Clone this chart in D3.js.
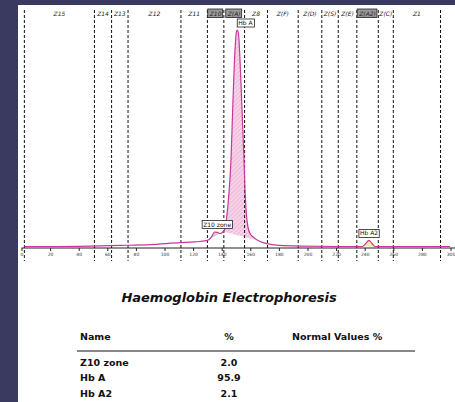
<!DOCTYPE html>
<html><head><meta charset="utf-8">
<script src="https://cdn.jsdelivr.net/npm/d3@7"></script>
<style>html,body{margin:0;padding:0;background:#fff;}svg{display:block;}</style>
</head><body>
<script>
// ---- data ----
const mobility = [2, 20, 48, 69, 90, 111, 121, 130, 133, 135, 137, 139, 141, 142.3, 143.7, 145, 146.5, 147.9, 149.3, 150.3, 151, 151.7, 152.8, 154.2, 155.6, 156.3, 157.3, 158.4, 159.8, 162.6, 165.4, 168.9, 172.4, 180.8, 194.8, 229.7, 238.1, 240.2, 243, 245.1, 247.2, 264.7, 299.7];
const absorbance = [0, 0, 0.2, 0.5, 0.9, 1.8, 2.1, 2.8, 4.6, 6.7, 6.5, 6.0, 6.9, 8.3, 14.7, 24, 40, 67.7, 90.8, 99.1, 100, 98.6, 86.2, 63.1, 40.1, 26.3, 14.7, 8.8, 6, 4.1, 2.8, 1.8, 1.2, 0.5, 0.2, 0, 0, 0.9, 2.8, 1.4, 0, 0, 0];
const zoneBounds = [2, 51, 63, 74.5, 111.5, 130, 141.5, 156, 172, 193.5, 210, 221.5, 234.5, 249.5, 260, 293];
const zoneNames = ["Z15", "Z14", "Z13", "Z12", "Z11", "Z10", "Z(A)", "Z8", "Z(F)", "Z(D)", "Z(S)", "Z(E)", "Z(A2)", "Z(C)", "Z1"];
const highlightedZones = ["Z10", "Z(A)", "Z(A2)"];
const peakNames = ["Z10 zone", "Hb A", "Hb A2"];
const peakStart = [130, 141, 238.1];
const peakEnd = [141, 165.4, 247.2];
const peakPercent = ["2.0", "95.9", "2.1"];
const xTicks = [0, 20, 40, 60, 80, 100, 120, 140, 160, 180, 200, 220, 240, 260, 280, 300];
const title = "Haemoglobin Electrophoresis";
const tableHeaders = ["Name", "%", "Normal Values %"];

// ---- drawing ----
const W = 455, H = 402;
const svg = d3.select("body").append("svg").attr("width", W).attr("height", H);
const bg = "#3a3a60";
svg.append("rect").attr("width", W).attr("height", H).attr("fill", "#fff");
svg.append("rect").attr("x", 0).attr("y", 0).attr("width", 18).attr("height", H).attr("fill", bg);
svg.append("rect").attr("x", 0).attr("y", 0).attr("width", W).attr("height", 5).attr("fill", bg);

const x = d3.scaleLinear().domain([0, 300]).range([21.5, 450.5]);
const y = d3.scaleLinear().domain([0, 100]).range([246.5, 30]);

const defs = svg.append("defs");
const pat = defs.append("pattern").attr("id", "hatch").attr("patternUnits", "userSpaceOnUse")
  .attr("width", 3).attr("height", 3).attr("patternTransform", "rotate(45)");
pat.append("rect").attr("width", 3).attr("height", 3).attr("fill", "#f7d3e8");
pat.append("line").attr("x1", 0).attr("y1", 0).attr("x2", 0).attr("y2", 3).attr("stroke", "#e59bc9").attr("stroke-width", 1);

const pts = mobility.map((m, i) => ({m, a: absorbance[i]}));
const fills = ["#cfcfcf", "url(#hatch)", "#f2eca8"];
peakNames.forEach((name, i) => {
  const sub = pts.filter(p => p.m >= peakStart[i] - 1e-6 && p.m <= peakEnd[i] + 1e-6);
  const p0 = sub[0], p1 = sub[sub.length - 1];
  const base = m => p0.a + (p1.a - p0.a) * (m - p0.m) / (p1.m - p0.m);
  const area = d3.area().curve(d3.curveMonotoneX)
    .x(d => x(d.m)).y1(d => y(d.a)).y0(d => y(base(d.m)));
  svg.append("path").datum(sub).attr("d", area).attr("fill", fills[i]).attr("stroke", "none");
});

// axis
const axis = d3.axisBottom(x).tickValues(xTicks).tickSize(3).tickPadding(1.5);
const gx = svg.append("g").attr("transform", `translate(0,${248})`).call(axis);
gx.select(".domain").attr("stroke", "#222").attr("stroke-width", 1).attr("d", `M${x(0)},0H${W}`);
gx.selectAll(".tick line").attr("stroke", "#222");
gx.selectAll(".tick text").attr("font-size", 4.5).attr("font-family", "DejaVu Sans").attr("fill", "#333");

// zone lines
svg.append("g").selectAll("line").data(zoneBounds).join("line")
  .attr("x1", d => x(d)).attr("x2", d => x(d)).attr("y1", 10).attr("y2", 261)
  .attr("stroke", "#111").attr("stroke-width", 1).attr("stroke-dasharray", "3,2");

// zone labels
zoneNames.forEach((z, i) => {
  const cx = (x(zoneBounds[i]) + x(zoneBounds[i + 1])) / 2;
  const g = svg.append("g");
  const t = g.append("text").attr("x", cx).attr("y", 15.5).attr("text-anchor", "middle")
    .attr("font-family", "DejaVu Sans").attr("font-style", "italic").attr("font-size", 6)
    .attr("fill", "#222").text(z);
  if (highlightedZones.includes(z)) {
    const bb = t.node().getBBox();
    g.insert("rect", "text").attr("x", bb.x - 1).attr("y", 9).attr("width", bb.width + 2).attr("height", 8.5)
      .attr("fill", "#9a9a9a").attr("stroke", "#222").attr("stroke-width", 0.8);
  }
});

// curve
const line = d3.line().curve(d3.curveMonotoneX).x(d => x(d.m)).y(d => y(d.a));
svg.append("path").datum(pts).attr("d", line).attr("fill", "none")
  .attr("stroke", "#c8389c").attr("stroke-width", 1.2);

// peak labels
const labelDx = [-6, 8, 0];
peakNames.forEach((name, i) => {
  const sub = pts.filter(p => p.m >= peakStart[i] && p.m <= peakEnd[i]);
  const top = sub.reduce((a, b) => b.a > a.a ? b : a);
  const cx = x(top.m) + labelDx[i];
  const cy = y(top.a) - 7;
  const g = svg.append("g");
  const t = g.append("text").attr("x", cx).attr("y", cy + 2).attr("text-anchor", "middle")
    .attr("font-family", "DejaVu Sans").attr("font-size", 6).attr("fill", "#111").text(name);
  const bb = t.node().getBBox();
  g.insert("rect", "text").attr("x", bb.x - 1).attr("y", cy - 4).attr("width", bb.width + 2).attr("height", 8)
    .attr("fill", "#fff").attr("stroke", "#222").attr("stroke-width", 0.8);
});

// title
svg.append("text").attr("x", 229).attr("y", 302).attr("text-anchor", "middle")
  .attr("font-family", "DejaVu Sans").attr("font-style", "italic").attr("font-weight", "bold")
  .attr("font-size", 13).attr("fill", "#111").text(title);

// table
const tf = "DejaVu Sans";
svg.append("text").attr("x", 80).attr("y", 340).attr("font-family", tf).attr("font-weight", "bold").attr("font-size", 9.5).attr("fill", "#111").text(tableHeaders[0]);
svg.append("text").attr("x", 229).attr("y", 340).attr("text-anchor", "middle").attr("font-family", tf).attr("font-weight", "bold").attr("font-size", 9.5).attr("fill", "#111").text(tableHeaders[1]);
svg.append("text").attr("x", 292).attr("y", 340).attr("font-family", tf).attr("font-weight", "bold").attr("font-size", 9.5).attr("fill", "#111").text(tableHeaders[2]);
svg.append("line").attr("x1", 77).attr("x2", 415).attr("y1", 351).attr("y2", 351).attr("stroke", "#111").attr("stroke-width", 1.2);
const rowY = [365.5, 381, 396.5];
peakNames.forEach((name, i) => {
  svg.append("text").attr("x", 80).attr("y", rowY[i]).attr("font-family", tf).attr("font-weight", "bold").attr("font-size", 9.5).attr("fill", "#111").text(name);
  svg.append("text").attr("x", 229).attr("y", rowY[i]).attr("text-anchor", "middle").attr("font-family", tf).attr("font-weight", "bold").attr("font-size", 9.5).attr("fill", "#111").text(peakPercent[i]);
});
</script>
</body></html>
